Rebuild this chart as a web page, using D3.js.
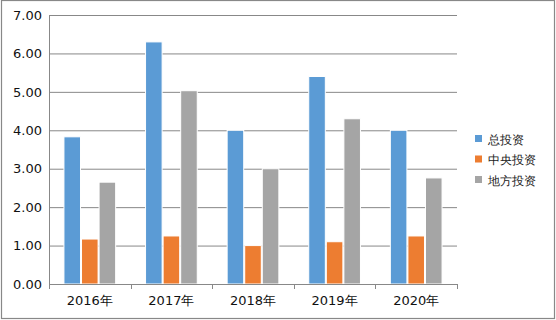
<!DOCTYPE html>
<html>
<head>
<meta charset="utf-8">
<script src="https://cdn.jsdelivr.net/npm/d3@7"></script>
<style>
  body { margin: 0; background: #fff; }
  svg text { font-family: "DejaVu Sans", sans-serif; }
</style>
</head>
<body>
<div id="chart"></div>
<script>
const years = ['2016年', '2017年', '2018年', '2019年', '2020年'];
const seriesNames = ['总投资', '中央投资', '地方投资'];
const total = [3.83, 6.30, 4.00, 5.40, 4.00];
const central = [1.17, 1.25, 1.00, 1.10, 1.25];
const local = [2.65, 5.03, 3.00, 4.30, 2.76];
const yTicks = [0, 1, 2, 3, 4, 5, 6, 7];
const colors = ['#5b9bd5', '#ed7d31', '#a5a5a5'];

const W = 556, H = 320;
const margin = {top: 15, right: 99, bottom: 36, left: 49};
const innerW = W - margin.left - margin.right;
const innerH = H - margin.top - margin.bottom;

const svg = d3.select('#chart').append('svg')
  .attr('width', W).attr('height', H);

// outer frame
svg.append('rect')
  .attr('x', 1.5).attr('y', 0.5)
  .attr('width', 553).attr('height', 318)
  .attr('fill', '#fff').attr('stroke', '#888').attr('stroke-width', 1.2);

const g = svg.append('g').attr('transform', `translate(${margin.left},${margin.top})`);

const x = d3.scaleBand().domain(years).range([0, innerW]).paddingInner(0).paddingOuter(0);
const bw = x.bandwidth();
const xs = d3.scaleBand().domain(seriesNames).range([bw * 0.177, bw * 0.823]).padding(0);
const y = d3.scaleLinear().domain([0, 7]).range([innerH, 0]);

// gridlines
g.append('g')
  .call(d3.axisLeft(y).tickValues(yTicks).tickSize(-innerW).tickFormat(''))
  .call(s => s.select('.domain').remove())
  .call(s => s.selectAll('line').attr('stroke', '#888'));

// left axis line
g.append('line').attr('x1', 0.5).attr('x2', 0.5).attr('y1', 0).attr('y2', innerH)
  .attr('stroke', '#888');

// y labels
g.append('g')
  .call(d3.axisLeft(y).tickValues(yTicks).tickSize(0).tickPadding(7).tickFormat(d3.format('.2f')))
  .call(s => s.select('.domain').remove())
  .call(s => s.selectAll('text').attr('font-size', 13).attr('fill', '#111')
    .attr('font-family', '"DejaVu Sans", sans-serif'));

// bars
const data = [total, central, local];
years.forEach((yr, i) => {
  const grp = g.append('g').attr('transform', `translate(${x(yr)},0)`);
  seriesNames.forEach((s, j) => {
    const v = data[j][i];
    grp.append('rect')
      .attr('x', xs(s) + 0.5)
      .attr('y', y(v))
      .attr('width', xs.bandwidth() - 1)
      .attr('height', innerH - y(v))
      .attr('fill', colors[j])
      .attr('stroke', '#fff').attr('stroke-width', 1);
  });
});

// x axis
const xAxis = g.append('g').attr('transform', `translate(0,${innerH})`);
xAxis.append('line').attr('x1', 0).attr('x2', innerW).attr('y1', 0.5).attr('y2', 0.5)
  .attr('stroke', '#888');
const bounds = years.map(d => x(d)).concat([innerW]);
xAxis.selectAll('.tk').data(bounds).enter().append('line')
  .attr('x1', d => Math.round(d) + 0.5).attr('x2', d => Math.round(d) + 0.5)
  .attr('y1', 0).attr('y2', 5).attr('stroke', '#888');
xAxis.selectAll('.lbl').data(years).enter().append('text')
  .attr('x', d => x(d) + bw / 2)
  .attr('y', 21)
  .attr('text-anchor', 'middle')
  .attr('font-size', 13).attr('fill', '#111')
  .text(d => d);

// legend
const legend = svg.append('g').attr('transform', 'translate(475,139)');
seriesNames.forEach((s, j) => {
  const row = legend.append('g').attr('transform', `translate(0,${j * 20.5})`);
  row.append('rect').attr('x', 0).attr('y', -4).attr('width', 7).attr('height', 7)
    .attr('fill', colors[j]);
  row.append('text').attr('x', 13).attr('y', 4.5)
    .attr('font-size', 12)
    .attr('font-family', '"Noto Sans CJK SC", sans-serif')
    .attr('fill', '#222')
    .text(s);
});
</script>
</body>
</html>
